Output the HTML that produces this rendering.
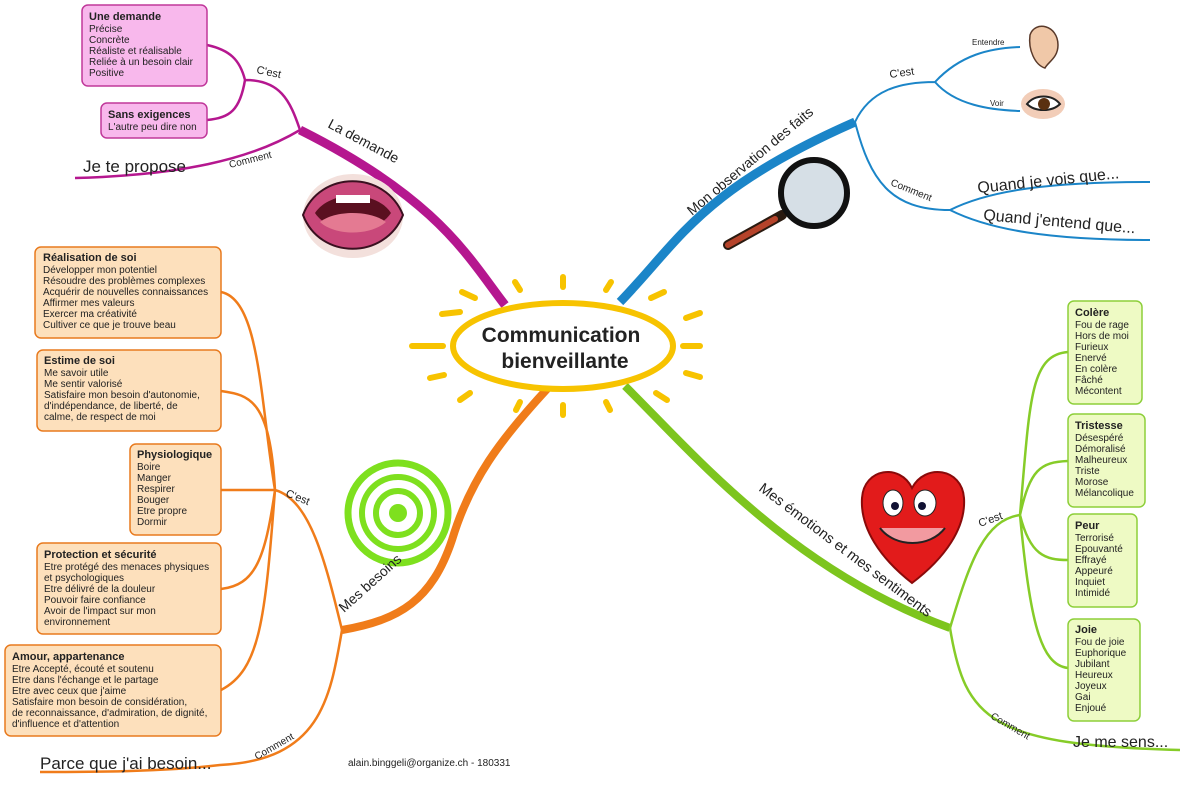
<!DOCTYPE html>
<html><head><meta charset="utf-8"><style>
html,body{margin:0;padding:0;background:#fff}
svg{display:block;font-family:"Liberation Sans",Arial,sans-serif}
.t{font-size:10px;fill:#222}
.b{font-size:11px;font-weight:bold;fill:#222}
</style></head><body>
<svg width="1200" height="788" viewBox="0 0 1200 788">
<!-- sun rays -->
<g stroke="#f7c300" stroke-width="6" stroke-linecap="round">
<line x1="563" y1="287" x2="563" y2="277"/>
<line x1="563" y1="405" x2="563" y2="415"/>
<line x1="412" y1="346" x2="443" y2="346"/>
<line x1="683" y1="346" x2="700" y2="346"/>
<line x1="520" y1="290" x2="515" y2="282"/>
<line x1="606" y1="290" x2="611" y2="282"/>
<line x1="475" y1="298" x2="462" y2="292"/>
<line x1="651" y1="298" x2="664" y2="292"/>
<line x1="460" y1="312" x2="442" y2="314"/>
<line x1="686" y1="318" x2="700" y2="313"/>
<line x1="444" y1="375" x2="430" y2="378"/>
<line x1="686" y1="373" x2="700" y2="377"/>
<line x1="470" y1="393" x2="460" y2="400"/>
<line x1="656" y1="393" x2="667" y2="400"/>
<line x1="520" y1="402" x2="516" y2="410"/>
<line x1="606" y1="402" x2="610" y2="410"/>
</g>
<!-- main branches -->
<path d="M505,305 C470,260 440,200 300,130" stroke="#b5178f" stroke-width="9" fill="none"/>
<path d="M300,130 C250,160 180,175 75,178" stroke="#b5178f" stroke-width="2.5" fill="none"/>
<path d="M300,130 C290,100 280,80 245,80 C240,60 230,50 207,45 M245,80 C240,110 230,118 207,120" stroke="#b5178f" stroke-width="2.5" fill="none"/>
<path d="M620,302 C680,240 700,190 855,122" stroke="#1b85c8" stroke-width="9" fill="none"/>
<path d="M855,122 C870,90 900,82 935,82 C960,55 990,48 1020,47 M935,82 C955,105 990,110 1020,111" stroke="#1b85c8" stroke-width="2" fill="none"/>
<path d="M855,122 C870,180 890,210 950,210 C990,190 1050,182 1150,182 M950,210 C990,230 1050,240 1150,240" stroke="#1b85c8" stroke-width="2" fill="none"/>
<path d="M625,386 C690,450 790,570 950,628" stroke="#7dc51e" stroke-width="8" fill="none"/>
<path d="M950,628 C970,560 985,520 1020,515" stroke="#86cc28" stroke-width="2.5" fill="none"/>
<path d="M1020,515 C1030,400 1030,355 1068,352 M1020,515 C1030,470 1040,462 1068,461 M1020,515 C1030,555 1045,560 1068,560 M1020,515 C1030,620 1040,665 1068,668" stroke="#86cc28" stroke-width="2.5" fill="none"/>
<path d="M950,628 C965,720 990,745 1180,750" stroke="#86cc28" stroke-width="2.5" fill="none"/>
<path d="M548,388 C500,440 470,480 452,540 C432,600 400,620 342,630" stroke="#f07c1a" stroke-width="8" fill="none"/>
<path d="M342,630 C325,560 310,500 275,490 M275,490 C260,400 260,300 221,292 M275,490 C270,400 250,395 221,391 M275,490 C260,490 250,490 221,490 M275,490 C265,560 255,585 221,589 M275,490 C265,620 260,670 221,690" stroke="#f07c1a" stroke-width="2.5" fill="none"/>
<path d="M342,630 C330,700 320,760 220,765 C160,772 90,772 40,772" stroke="#f07c1a" stroke-width="2.5" fill="none"/>
<!-- center -->
<ellipse cx="563" cy="346" rx="110" ry="43" fill="#fff" stroke="#f7c300" stroke-width="6"/>
<text x="561" y="342" text-anchor="middle" font-size="21" font-weight="bold" fill="#222">Communication</text>
<text x="565" y="368" text-anchor="middle" font-size="21" font-weight="bold" fill="#222">bienveillante</text>
<!-- images (under labels) -->
<ellipse cx="353" cy="216" rx="50" ry="42" fill="#f3e0dc"/>
<path d="M303,215 C320,170 385,170 403,215 C385,260 320,260 303,215Z" fill="#c9487a" stroke="#3a1020" stroke-width="2"/>
<path d="M315,213 C330,190 376,190 391,213 C376,236 330,236 315,213Z" fill="#5a1020"/>
<path d="M320,222 C335,210 370,210 386,222 C370,236 335,236 320,222Z" fill="#e47a92"/>
<rect x="336" y="195" width="34" height="8" fill="#fff"/>
<line x1="728" y1="245" x2="782" y2="215" stroke="#2a1a10" stroke-width="10" stroke-linecap="round"/>
<line x1="728" y1="245" x2="775" y2="219" stroke="#b5432a" stroke-width="6" stroke-linecap="round"/>
<circle cx="814" cy="193" r="33" fill="#d6dfe6" stroke="#111" stroke-width="6"/>
<path d="M1030,35 C1035,20 1058,25 1058,45 C1058,58 1048,62 1045,68 C1035,65 1028,50 1030,35Z" fill="#f0c8a8" stroke="#5a3a2a" stroke-width="1.5"/>
<ellipse cx="1043" cy="104" rx="22" ry="15" fill="#f2cdb8"/>
<path d="M1027,104 C1035,94 1052,94 1060,104 C1052,112 1035,112 1027,104Z" fill="#fff" stroke="#222" stroke-width="2"/>
<circle cx="1044" cy="104" r="6" fill="#5a3010"/>
<path d="M912,583 C880,558 860,528 862,498 C864,468 900,463 912,488 C925,463 962,468 964,498 C966,528 945,558 912,583Z" fill="#e21b1b" stroke="#8a0a0a" stroke-width="2"/>
<ellipse cx="893" cy="503" rx="10" ry="13" fill="#fff" stroke="#222"/>
<ellipse cx="925" cy="503" rx="11" ry="13" fill="#fff" stroke="#222"/>
<circle cx="895" cy="506" r="4" fill="#113"/><circle cx="922" cy="506" r="4" fill="#113"/>
<path d="M880,528 C895,548 930,548 945,528" stroke="#222" stroke-width="2" fill="#f29aa0"/>
<circle cx="398" cy="513" r="50" fill="none" stroke="#7ee01e" stroke-width="7"/>
<circle cx="398" cy="513" r="36" fill="none" stroke="#7ee01e" stroke-width="6"/>
<circle cx="398" cy="513" r="22" fill="none" stroke="#7ee01e" stroke-width="6"/>
<circle cx="398" cy="513" r="9" fill="#7ee01e"/>
<!-- branch labels -->
<text transform="translate(327,127) rotate(28)" font-size="14" fill="#222">La demande</text>
<text transform="translate(692,216) rotate(-40)" font-size="14" fill="#222">Mon observation des faits</text>
<text transform="translate(758,490) rotate(37)" font-size="14.5" fill="#222">Mes émotions et mes sentiments</text>
<text transform="translate(344,613) rotate(-42)" font-size="14" fill="#222">Mes besoins</text>
<text transform="translate(256,73) rotate(12)" font-size="11" fill="#222">C'est</text>
<text transform="translate(230,168) rotate(-14)" font-size="10" fill="#222">Comment</text>
<text x="83" y="172" font-size="17" fill="#222">Je te propose</text>
<text transform="translate(890,78) rotate(-8)" font-size="11" fill="#222">C'est</text>
<text x="972" y="45" font-size="8" fill="#222">Entendre</text>
<text x="990" y="106" font-size="8" fill="#222">Voir</text>
<text transform="translate(890,185) rotate(22)" font-size="10" fill="#222">Comment</text>
<text transform="translate(978,193) rotate(-6)" font-size="16" fill="#222">Quand je vois que...</text>
<text transform="translate(983,220) rotate(5)" font-size="16" fill="#222">Quand j'entend que...</text>
<text transform="translate(980,527) rotate(-20)" font-size="11" fill="#222">C'est</text>
<text transform="translate(990,718) rotate(30)" font-size="10" fill="#222">Comment</text>
<text x="1073" y="747" font-size="16" fill="#222">Je me sens...</text>
<text transform="translate(285,496) rotate(22)" font-size="11" fill="#222">C'est</text>
<text transform="translate(257,760) rotate(-30)" font-size="10" fill="#222">Comment</text>
<text x="40" y="769" font-size="17" fill="#222">Parce que j'ai besoin...</text>
<text x="348" y="766" font-size="10" fill="#222">alain.binggeli@organize.ch - 180331</text>
<!-- pink boxes -->
<rect x="82" y="5" width="125" height="81" rx="6" fill="#f8b8ec" stroke="#c0389a" stroke-width="1.5"/>
<text x="89" y="20" class="b">Une demande</text>
<g class="t"><text x="89" y="32">Précise</text><text x="89" y="43">Concrète</text><text x="89" y="54">Réaliste et réalisable</text><text x="89" y="65">Reliée à un besoin clair</text><text x="89" y="76">Positive</text></g>
<rect x="101" y="103" width="106" height="35" rx="6" fill="#f8b8ec" stroke="#c0389a" stroke-width="1.5"/>
<text x="108" y="118" class="b">Sans exigences</text>
<text x="108" y="130" class="t">L'autre peu dire non</text>
<!-- orange boxes -->
<g fill="#fde0bc" stroke="#e87a1e" stroke-width="1.5">
<rect x="35" y="247" width="186" height="91" rx="6"/>
<rect x="37" y="350" width="184" height="81" rx="6"/>
<rect x="130" y="444" width="91" height="91" rx="6"/>
<rect x="37" y="543" width="184" height="91" rx="6"/>
<rect x="5" y="645" width="216" height="91" rx="6"/>
</g>
<text x="43" y="261" class="b">Réalisation de soi</text>
<g class="t"><text x="43" y="273">Développer mon potentiel</text><text x="43" y="284">Résoudre des problèmes complexes</text><text x="43" y="295">Acquérir de nouvelles connaissances</text><text x="43" y="306">Affirmer mes valeurs</text><text x="43" y="317">Exercer ma créativité</text><text x="43" y="328">Cultiver ce que je trouve beau</text></g>
<text x="44" y="364" class="b">Estime de soi</text>
<g class="t"><text x="44" y="376">Me savoir utile</text><text x="44" y="387">Me sentir valorisé</text><text x="44" y="398">Satisfaire mon besoin d'autonomie,</text><text x="44" y="409">d'indépendance, de liberté, de</text><text x="44" y="420">calme, de respect de moi</text></g>
<text x="137" y="458" class="b">Physiologique</text>
<g class="t"><text x="137" y="470">Boire</text><text x="137" y="481">Manger</text><text x="137" y="492">Respirer</text><text x="137" y="503">Bouger</text><text x="137" y="514">Etre propre</text><text x="137" y="525">Dormir</text></g>
<text x="44" y="558" class="b">Protection et sécurité</text>
<g class="t"><text x="44" y="570">Etre protégé des menaces physiques</text><text x="44" y="581">et psychologiques</text><text x="44" y="592">Etre délivré de la douleur</text><text x="44" y="603">Pouvoir faire confiance</text><text x="44" y="614">Avoir de l'impact sur mon</text><text x="44" y="625">environnement</text></g>
<text x="12" y="660" class="b">Amour, appartenance</text>
<g class="t"><text x="12" y="672">Etre Accepté, écouté et soutenu</text><text x="12" y="683">Etre dans l'échange et le partage</text><text x="12" y="694">Etre avec ceux que j'aime</text><text x="12" y="705">Satisfaire mon besoin de considération,</text><text x="12" y="716">de reconnaissance, d'admiration, de dignité,</text><text x="12" y="727">d'influence et d'attention</text></g>
<!-- green boxes -->
<g fill="#eefac4" stroke="#8dcf3a" stroke-width="1.5">
<rect x="1068" y="301" width="74" height="103" rx="6"/>
<rect x="1068" y="414" width="77" height="93" rx="6"/>
<rect x="1068" y="514" width="69" height="93" rx="6"/>
<rect x="1068" y="619" width="72" height="102" rx="6"/>
</g>
<text x="1075" y="316" class="b">Colère</text>
<g class="t"><text x="1075" y="328">Fou de rage</text><text x="1075" y="339">Hors de moi</text><text x="1075" y="350">Furieux</text><text x="1075" y="361">Enervé</text><text x="1075" y="372">En colère</text><text x="1075" y="383">Fâché</text><text x="1075" y="394">Mécontent</text></g>
<text x="1075" y="429" class="b">Tristesse</text>
<g class="t"><text x="1075" y="441">Désespéré</text><text x="1075" y="452">Démoralisé</text><text x="1075" y="463">Malheureux</text><text x="1075" y="474">Triste</text><text x="1075" y="485">Morose</text><text x="1075" y="496">Mélancolique</text></g>
<text x="1075" y="529" class="b">Peur</text>
<g class="t"><text x="1075" y="541">Terrorisé</text><text x="1075" y="552">Epouvanté</text><text x="1075" y="563">Effrayé</text><text x="1075" y="574">Appeuré</text><text x="1075" y="585">Inquiet</text><text x="1075" y="596">Intimidé</text></g>
<text x="1075" y="633" class="b">Joie</text>
<g class="t"><text x="1075" y="645">Fou de joie</text><text x="1075" y="656">Euphorique</text><text x="1075" y="667">Jubilant</text><text x="1075" y="678">Heureux</text><text x="1075" y="689">Joyeux</text><text x="1075" y="700">Gai</text><text x="1075" y="711">Enjoué</text></g>
</svg>
</body></html>
